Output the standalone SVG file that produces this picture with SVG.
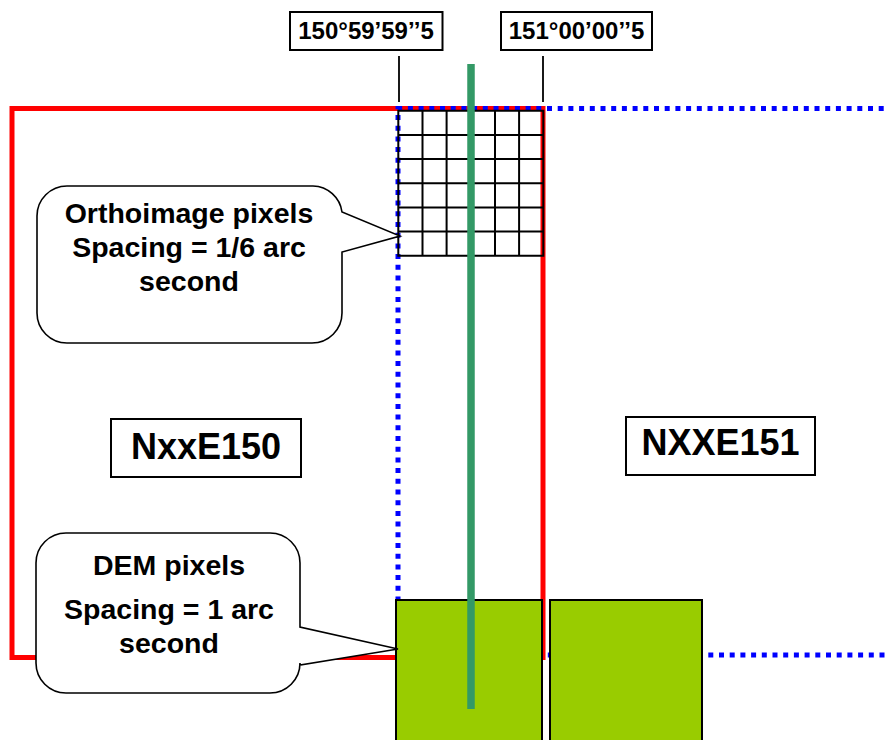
<svg xmlns="http://www.w3.org/2000/svg" width="889" height="740" viewBox="0 0 889 740">
<style>
.lbl{font-family:"Liberation Sans",Arial,sans-serif;font-weight:bold;fill:#000;text-anchor:middle}
.box{fill:#fff;stroke:#000;stroke-width:2}
.red{fill:none;stroke:#ff0000;stroke-width:5}
.blue{fill:none;stroke:#0000ff;stroke-width:5;stroke-dasharray:5 5.7}
.grid{fill:none;stroke:#000;stroke-width:2}
.dem{fill:#99cc00;stroke:#000;stroke-width:2}
.call{fill:#fff;stroke:#000;stroke-width:1.6;stroke-linejoin:miter}
.tick{stroke:#000;stroke-width:1.8}
</style>
<rect width="889" height="740" fill="#fff"/>
<g id="tile-NxxE150-boundary">
<rect class="red" x="12" y="108.5" width="531" height="549"/>
</g>
<g id="tile-NXXE151-boundary">
<path class="blue" d="M398,655 V108.5 H889"/>
<path class="blue" d="M398,655 H889"/>
</g>
<g id="ortho-grid">
<path class="grid" d="M398.3,110.7 H543.3 V255.7 H398.3 Z M422.5,110.7 V255.7 M446.6,110.7 V255.7 M470.8,110.7 V255.7 M495,110.7 V255.7 M519.1,110.7 V255.7 M398.3,134.9 H543.3 M398.3,159 H543.3 M398.3,183.2 H543.3 M398.3,207.4 H543.3 M398.3,231.5 H543.3"/>
</g>
<g id="dem-pixel-1"><rect class="dem" x="396" y="600" width="146" height="150"/></g>
<g id="dem-pixel-2"><rect class="dem" x="550" y="600" width="152" height="150"/></g>
<g id="connectors">
<line class="tick" x1="399" y1="56" x2="399" y2="102"/>
<line class="tick" x1="543" y1="56" x2="543" y2="102"/>
<line x1="471" y1="64" x2="471" y2="709" stroke="#339966" stroke-width="7.5"/>
</g>
<g id="label-west">
<rect class="box" x="290" y="12" width="152.5" height="38"/>
<text class="lbl" x="366" y="38.5" font-size="24">150°59’59’’5</text>
</g>
<g id="label-east">
<rect class="box" x="501" y="12" width="151" height="38"/>
<text class="lbl" x="576.5" y="38.5" font-size="24">151°00’00’’5</text>
</g>
<g id="name-NxxE150">
<rect class="box" x="111" y="419" width="190" height="58"/>
<text class="lbl" x="206" y="459" font-size="36">NxxE150</text>
</g>
<g id="name-NXXE151">
<rect class="box" x="626" y="417" width="189" height="58"/>
<text class="lbl" x="720.5" y="455" font-size="36">NXXE151</text>
</g>
<g id="callout-ortho">
<path class="call" d="M67,186 H313 A30,30 0 0 1 342,212 L400,236 L342,252 V313 A30,30 0 0 1 312,343 H67 A30,30 0 0 1 37,313 V216 A30,30 0 0 1 67,186 Z"/>
<text class="lbl" font-size="28.5"><tspan x="189" y="223">Orthoimage pixels</tspan><tspan x="189" y="257">Spacing = 1/6 arc</tspan><tspan x="189" y="291">second</tspan></text>
</g>
<g id="callout-dem">
<path class="call" d="M66,533 H270 A30,30 0 0 1 300,563 V627 L398,649 L300,665 V663 A30,30 0 0 1 270,693 H66 A30,30 0 0 1 36,663 V563 A30,30 0 0 1 66,533 Z"/>
<text class="lbl" font-size="28.5"><tspan x="169" y="575">DEM pixels</tspan><tspan x="169" y="619">Spacing = 1 arc</tspan><tspan x="169" y="653">second</tspan></text>
</g>
</svg>
